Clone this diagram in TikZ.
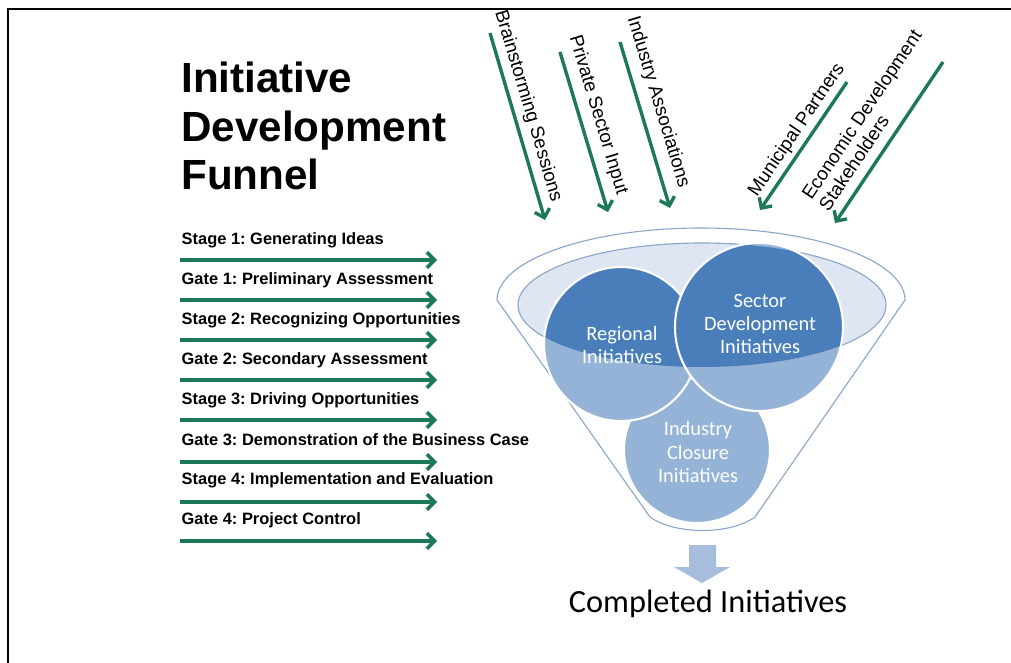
\documentclass[tikz,border=0pt]{standalone}
\usepackage{fontspec}
\setmainfont{Liberation Sans}
\newfontfamily\calibri{Carlito}
\usetikzlibrary{arrows.meta}
\frenchspacing
\definecolor{flow-green}{RGB}{28,120,88}
\definecolor{circle-dark}{RGB}{74,126,187}
\definecolor{circle-light}{RGB}{149,179,215}
\definecolor{rim-fill}{RGB}{221,230,242}
\definecolor{rim-line}{RGB}{140,166,201}
\definecolor{out-arrow}{RGB}{166,189,221}

\begin{document}
\begin{tikzpicture}[x=0.025cm, y=-0.025cm,
    stagelabel/.style={anchor=west, inner sep=1pt, font=\fontsize{11.7}{14}\selectfont\bfseries},
    flow/.style={-{Straight Barb[length=5.5pt, width=11pt]}, line width=2.4pt, flow-green},
    source/.style={font=\fontsize{13.4}{14.5}\selectfont, align=left, inner sep=0pt},
    initiative/.style={font=\calibri\fontsize{14.5}{16.5}\selectfont, text=white, align=center, inner sep=0pt},
    bubble/.style={draw=white, line width=1.5pt}]

    \useasboundingbox (0,0) rectangle (1011,663);

    % Frame, only top and left edges show
    \draw[line width=2pt] (8,663) -- (8,9) -- (1011,9);

    % Title
    \node[anchor=west, align=left, inner sep=0pt, font=\fontsize{30}{34.7}\selectfont\bfseries] (title) at (181,126) {Initiative\\Development\\Funnel};

    % Stages and gates with arrows under each
    \node[stagelabel] (s1) at (180,240) {Stage 1: Generating Ideas};
    \node[stagelabel] (g1) at (180,280) {Gate 1: Preliminary Assessment};
    \node[stagelabel] (s2) at (180,320) {Stage 2: Recognizing Opportunities};
    \node[stagelabel] (g2) at (180,360) {Gate 2: Secondary Assessment};
    \node[stagelabel] (s3) at (180,400) {Stage 3: Driving Opportunities};
    \node[stagelabel] (g3) at (180,440) {Gate 3: Demonstration of the Business Case};
    \node[stagelabel] (s4) at (180,480) {Stage 4: Implementation and Evaluation};
    \node[stagelabel] (g4) at (180,520) {Gate 4: Project Control};
    \draw[flow] ([shift={(0,20)}]s1.west) -- ++(257,0);
    \draw[flow] ([shift={(0,20)}]g1.west) -- ++(257,0);
    \draw[flow] ([shift={(0,20)}]s2.west) -- ++(257,0);
    \draw[flow] ([shift={(0,20)}]g2.west) -- ++(257,0);
    \draw[flow] ([shift={(0,20)}]s3.west) -- ++(257,0);
    \draw[flow] ([shift={(0,22)}]g3.west) -- ++(257,0);
    \draw[flow] ([shift={(0,22)}]s4.west) -- ++(257,0);
    \draw[flow] ([shift={(0,21)}]g4.west) -- ++(257,0);

    % Funnel body and rim
    \draw[rim-line, fill=white, line width=0.8pt] (497,300) arc[start angle=180, end angle=360, x radius=204, y radius=72]
        -- (755,517) .. controls (730,535) and (675,535) .. (650,517) -- cycle;
    \draw[rim-line, fill=rim-fill, line width=0.8pt] (702,305) ellipse[x radius=184, y radius=62];

    % Initiative circles, darker where they sit inside the rim
    \fill[circle-light] (697,450) circle[radius=73];
    \draw[bubble] (697,450) circle[radius=73];
    \fill[circle-light] (621,344) circle[radius=77];
    \begin{scope}
        \clip (702,305) ellipse[x radius=184, y radius=62];
        \fill[circle-dark] (621,344) circle[radius=77];
    \end{scope}
    \draw[bubble] (621,344) circle[radius=77];
    \fill[circle-light] (759,327) circle[radius=84];
    \begin{scope}
        \clip (702,305) ellipse[x radius=184, y radius=62];
        \fill[circle-dark] (759,327) circle[radius=84];
    \end{scope}
    \draw[bubble] (759,327) circle[radius=84];

    \node[initiative] (regional) at (622,345) {Regional\\Initiatives};
    \node[initiative] (sector) at (760,324) {Sector\\Development\\Initiatives};
    \node[initiative] (closure) at (698,452) {Industry\\Closure\\Initiatives};

    % Output of the funnel
    \fill[out-arrow] (689,545) -- (716,545) -- (716,567) -- (730,567) -- (702,583) -- (674,567) -- (689,567) -- cycle;
    \node[font=\calibri\fontsize{23}{26}\selectfont] (done) at (708,604) {Completed Initiatives};

    % Inputs feeding the funnel
    \coordinate (b1) at (490,33);  \coordinate (b2) at (545,220);
    \coordinate (p1) at (560,52);  \coordinate (p2) at (608,212);
    \coordinate (i1) at (620,42);  \coordinate (i2) at (670,208);
    \coordinate (m1) at (847,82);  \coordinate (m2) at (760,210);
    \coordinate (e1) at (943,62);  \coordinate (e2) at (835,223);
    \draw[flow] (b1) -- (b2);
    \draw[flow] (p1) -- (p2);
    \draw[flow] (i1) -- (i2);
    \draw[flow] (m1) -- (m2);
    \draw[flow] (e1) -- (e2);
    \node[source, rotate=-73.4] (brain) at (528,106) {Brainstorming Sessions};
    \node[source, rotate=-73.3] (private) at (598,115) {Private Sector Input};
    \node[source, rotate=-73.2] (assoc) at (658,102) {Industry Associations};
    \node[source, rotate=55.8] (munic) at (797,130) {Municipal Partners};
    \node[source, rotate=56.1] (econ) at (870,120) {Economic Development\\Stakeholders};
\end{tikzpicture}
\end{document}
